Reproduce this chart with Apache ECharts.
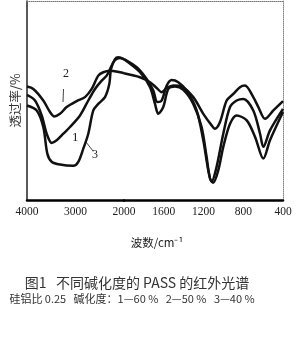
<!DOCTYPE html>
<html><head><meta charset="utf-8">
<script src="https://cdn.jsdelivr.net/npm/echarts@6/dist/echarts.min.js"></script>
<style>html,body{margin:0;padding:0;background:#fff}#c{width:296px;height:337px}</style>
</head><body><div id="c"></div>
<script>
// wavenumber (cm^-1) , transmittance (arbitrary %)
const curve1 = [[4000,52.8],[3835,50],[3697,42.5],[3594,33.3],[3491,28.7],[3388,30],[3251,33.3],[3113,36.7],[2907,42.5],[2736,50],[2598,55.8],[2460,60],[2357,62.5],[2254,67.5],[2186,70.3],[2083,71.3],[2000,70.8],[1872,66.7],[1772,60.8],[1705,55],[1665,49.2],[1621,50],[1570,57.5],[1520,60.3],[1454,59.2],[1369,55],[1269,45],[1202,30],[1152,15],[1118,9.2],[1068,16.7],[1001,33.3],[933,46.7],[866,50],[799,50.8],[699,45],[631,33.3],[598,26.7],[531,35],[400,45.8]];
const curve2 = [[4000,57],[3869,55.8],[3664,50],[3526,44.2],[3437,42],[3320,43.3],[3182,46.7],[2975,49.7],[2804,51.7],[2666,55.8],[2530,62.5],[2427,64.2],[2289,65],[2083,64.2],[2000,63.7],[1839,61.7],[1738,59.2],[1671,56.3],[1621,54.2],[1570,56.3],[1504,57.5],[1420,57],[1303,51.7],[1202,43.3],[1118,37.5],[1085,35.8],[1034,39.2],[967,50],[900,53.3],[833,56.7],[783,57.5],[699,51.7],[648,46.7],[581,40.8],[497,45],[400,49.7]];
const curve3 = [[4000,47.5],[3800,45],[3664,36.7],[3581,23.3],[3491,19.2],[3320,17.8],[3045,17.2],[2942,19.2],[2839,25.8],[2736,33.3],[2633,45],[2530,48.3],[2392,51.7],[2303,58.3],[2268,65.8],[2186,70.8],[2117,71.7],[2000,70.7],[1839,64.2],[1738,56.7],[1688,48.3],[1655,43.3],[1605,46.7],[1554,55.8],[1487,57],[1403,55.3],[1303,48.3],[1219,36.7],[1169,21.7],[1135,10.8],[1102,8.7],[1051,15],[1001,26.7],[933,38.3],[866,42.5],[765,40],[681,31.7],[598,20.8],[531,30],[400,44.2]];
const curveNames = ['1','2','3'];
const leftRange = [2000, 4000];
const rightRange = [400, 2000];
const xTickLabels = [4000, 3000, 2000, 1600, 1200, 800, 400];

const chart = echarts.init(document.getElementById('c'), null, {renderer:'canvas'});
const lineStyle = {color:'#111', width:2.5};
const series = [];
[curve1, curve2, curve3].forEach((c, i) => {
  series.push({type:'line', name:curveNames[i], xAxisIndex:0, yAxisIndex:0, showSymbol:false, smooth:0.3,
    lineStyle, data:c.filter(p => p[0] >= leftRange[0])});
  series.push({type:'line', name:curveNames[i], xAxisIndex:1, yAxisIndex:1, showSymbol:false, smooth:0.3,
    lineStyle, data:c.filter(p => p[0] <= rightRange[1])});
});
const labelFont = {fontFamily:'Liberation Serif', fontSize:11.5, color:'#222'};
const fmt = v => xTickLabels.includes(v) ? String(v) : '';
chart.setOption({
  animation:false,
  grid:[{left:27, width:97, top:1, bottom:137}, {left:124, width:159, top:1, bottom:137}],
  xAxis:[
    {gridIndex:0, type:'value', min:leftRange[0], max:leftRange[1], interval:1000, inverse:true,
     axisLine:{onZero:false, lineStyle:{color:'#000', width:2.5}}, axisTick:{show:false}, splitLine:{show:false},
     axisLabel:Object.assign({margin:6, formatter:v => v === 2000 ? '' : fmt(v)}, labelFont)},
    {gridIndex:1, type:'value', min:rightRange[0], max:rightRange[1], interval:400, inverse:true,
     axisLine:{onZero:false, lineStyle:{color:'#000', width:2.5}}, axisTick:{show:false}, splitLine:{show:false},
     axisLabel:Object.assign({margin:6, formatter:fmt}, labelFont)},
    {gridIndex:0, type:'value', position:'top', min:leftRange[0], max:leftRange[1], inverse:true,
     axisLine:{onZero:false, lineStyle:{color:'#777', width:1, type:'dotted'}}, axisTick:{show:false}, axisLabel:{show:false}, splitLine:{show:false}},
    {gridIndex:1, type:'value', position:'top', min:rightRange[0], max:rightRange[1], inverse:true,
     axisLine:{onZero:false, lineStyle:{color:'#777', width:1, type:'dotted'}}, axisTick:{show:false}, axisLabel:{show:false}, splitLine:{show:false}}
  ],
  yAxis:[
    {gridIndex:0, type:'value', min:0, max:100, axisLine:{show:true, onZero:false, lineStyle:{color:'#222', width:1.5}},
     axisTick:{show:false}, axisLabel:{show:false}, splitLine:{show:false},
     name:'透过率/%', nameLocation:'middle', nameRotate:90, nameGap:5,
     nameTextStyle:{fontFamily:'Noto Sans CJK SC', fontSize:12.5, color:'#333'}},
    {gridIndex:1, type:'value', min:0, max:100, position:'right', axisLine:{show:true, onZero:false, lineStyle:{color:'#888', width:1, type:'dotted'}},
     axisTick:{show:false}, axisLabel:{show:false}, splitLine:{show:false}}
  ],
  series,
  graphic:[
    {type:'text', left:63, top:68, style:{text:'2', font:'12px "Liberation Serif"', fill:'#222'}},
    {type:'line', shape:{x1:63.5, y1:89, x2:63, y2:102}, style:{stroke:'#444', lineWidth:1}},
    {type:'text', left:72, top:131, style:{text:'1', font:'13px "Liberation Serif"', fill:'#222'}},
    {type:'text', left:92, top:149, style:{text:'3', font:'12px "Liberation Serif"', fill:'#222'}},
    {type:'line', shape:{x1:86, y1:142, x2:93, y2:151}, style:{stroke:'#444', lineWidth:1}},
    {type:'text', x:157, y:243, style:{text:'波数/cm⁻¹', font:'11.5px "Noto Sans CJK SC"', fill:'#222', align:'center', verticalAlign:'middle'}},
    {type:'text', x:137, y:283, style:{text:'图1   不同碱化度的 PASS 的红外光谱', font:'14px "Noto Sans CJK SC"', fill:'#333', align:'center', verticalAlign:'middle'}},
    {type:'text', x:132, y:299, style:{text:'硅铝比 0.25   碱化度：1—60 %   2—50 %   3—40 %', font:'11px "Noto Sans CJK SC"', fill:'#333', align:'center', verticalAlign:'middle'}}
  ]
});
</script></body></html>
